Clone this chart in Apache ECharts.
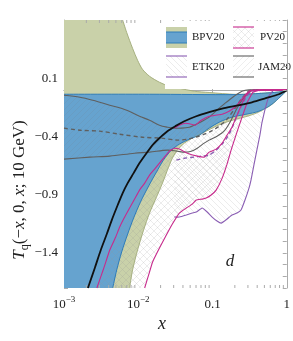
<!DOCTYPE html>
<html><head><meta charset="utf-8">
<script src="https://cdn.jsdelivr.net/npm/echarts@6/dist/echarts.min.js"></script>
<style>html,body{margin:0;padding:0;background:#fff}#c{width:293px;height:341px}</style>
</head><body><div id="c"></div>
<script>
// ---- tick labels ----
const xTickLabels = {'-3':'{a|10}{s|−3}', '-2':'{a|10}{s|−2}', '-1':'{a|0.1}', '0':'{a|1}'};
const yTickLabels = [0.1, -0.4, -0.9, -1.4];
const xMinorTicks = [0.002,0.003,0.004,0.005,0.006,0.007,0.008,0.009,0.02,0.03,0.04,0.05,0.06,0.07,0.08,0.09,0.2,0.3,0.4,0.5,0.6,0.7,0.8,0.9];

// ---- BPV20 bands ----
const bpvOuterUpper = [[0.001,0.6],[0.00617,0.6],[0.00698,0.494],[0.00839,0.357],[0.0098,0.254],[0.0114,0.177],[0.0142,0.117],[0.0193,0.066],[0.0263,0.031],[0.0358,0.014],[0.0568,-0.011],[0.0902,-0.022],[0.207,-0.038],[0.462,-0.029],[0.782,-0.018],[1,-0.005]];
const bpvOuterLower = [[0.001,-1.7],[0.00765,-1.7],[0.00839,-1.545],[0.0098,-1.374],[0.0118,-1.203],[0.0142,-1.057],[0.0176,-0.92],[0.0212,-0.8],[0.0247,-0.688],[0.0288,-0.586],[0.0336,-0.517],[0.0417,-0.457],[0.0534,-0.414],[0.0773,-0.363],[0.112,-0.311],[0.167,-0.269],[0.31,-0.222],[0.421,-0.19],[0.63,-0.125],[1,-0.005]];
const bpvInnerUpper = [[0.001,-0.037],[0.0142,-0.037],[0.207,-0.04],[0.462,-0.029],[0.782,-0.018],[1,-0.005]];
const bpvInnerLower = [[0.001,-1.7],[0.00453,-1.7],[0.00513,-1.545],[0.00598,-1.391],[0.0072,-1.237],[0.00866,-1.1],[0.0107,-0.963],[0.0138,-0.825],[0.0176,-0.705],[0.0218,-0.603],[0.0279,-0.517],[0.0358,-0.465],[0.0487,-0.423],[0.0662,-0.388],[0.0902,-0.328],[0.123,-0.277],[0.183,-0.234],[0.282,-0.209],[0.421,-0.183],[0.63,-0.123],[1,-0.005]];

// ---- thick black curve ----
const blackCurve = [[0.0021,-1.7],[0.0026,-1.528],[0.00313,-1.374],[0.00377,-1.237],[0.0044,-1.117],[0.00529,-0.988],[0.00617,-0.885],[0.0072,-0.8],[0.00866,-0.714],[0.0104,-0.628],[0.0129,-0.543],[0.016,-0.465],[0.0199,-0.406],[0.0247,-0.354],[0.0316,-0.311],[0.0417,-0.269],[0.0604,-0.226],[0.0902,-0.191],[0.143,-0.157],[0.227,-0.131],[0.34,-0.106],[0.523,-0.071],[0.782,-0.037],[1,-0.005]];

// ---- JAM20 ----
const jamUpper = [[0.001,-0.046],[0.00164,-0.063],[0.00244,-0.089],[0.00413,-0.131],[0.00698,-0.174],[0.0104,-0.226],[0.0142,-0.26],[0.0193,-0.303],[0.0247,-0.32],[0.0306,-0.328],[0.038,-0.328],[0.0487,-0.32],[0.0568,-0.303],[0.0727,-0.269],[0.0902,-0.234],[0.115,-0.174],[0.148,-0.114],[0.195,-0.054],[0.25,-0.011],[0.31,0],[1,0]];
const jamCentral = [[0.001,-0.328],[0.00164,-0.346],[0.00303,-0.354],[0.00562,-0.38],[0.0114,-0.406],[0.0205,-0.414],[0.0336,-0.431],[0.0458,-0.423],[0.0586,-0.406],[0.0773,-0.38],[0.0959,-0.354],[0.123,-0.311],[0.157,-0.251],[0.201,-0.157],[0.257,-0.063],[0.33,-0.003],[1,0]];
const jamLower = [[0.001,-0.594],[0.00223,-0.577],[0.00413,-0.568],[0.00893,-0.543],[0.0142,-0.534],[0.0247,-0.517],[0.0336,-0.526],[0.0417,-0.534],[0.0518,-0.526],[0.0623,-0.5],[0.0773,-0.457],[0.0902,-0.431],[0.115,-0.397],[0.143,-0.354],[0.172,-0.277],[0.214,-0.157],[0.274,-0.054],[0.35,-0.003],[1,0]];

// ---- PV20 ----
const pvUpper = [[0.00277,-1.7],[0.00344,-1.528],[0.00413,-1.374],[0.00497,-1.262],[0.00562,-1.177],[0.00656,-1.091],[0.00765,-1.014],[0.00893,-0.937],[0.0104,-0.86],[0.0122,-0.8],[0.0142,-0.731],[0.0166,-0.68],[0.0193,-0.628],[0.0225,-0.577],[0.0263,-0.526],[0.0306,-0.5],[0.0358,-0.508],[0.0458,-0.543],[0.0623,-0.568],[0.0773,-0.577],[0.0902,-0.534],[0.112,-0.508],[0.135,-0.457],[0.157,-0.388],[0.183,-0.32],[0.214,-0.217],[0.25,-0.114],[0.291,-0.037],[0.35,-0.003],[1,0]];
const pvMid = [[0.0306,-0.328],[0.0358,-0.303],[0.0431,-0.286],[0.0518,-0.294],[0.0586,-0.303],[0.0705,-0.26],[0.0902,-0.226],[0.109,-0.217],[0.135,-0.209],[0.167,-0.183],[0.207,-0.14],[0.242,-0.089],[0.282,-0.037],[0.33,-0.003],[1,0]];
const pvLower = [[0.0122,-1.7],[0.0138,-1.588],[0.0156,-1.477],[0.0193,-1.357],[0.0239,-1.245],[0.0288,-1.151],[0.0358,-1.057],[0.0444,-1.014],[0.0534,-0.98],[0.0604,-0.945],[0.0727,-0.937],[0.0822,-0.928],[0.0959,-0.902],[0.112,-0.86],[0.135,-0.757],[0.157,-0.637],[0.178,-0.517],[0.207,-0.388],[0.242,-0.26],[0.291,-0.114],[0.35,-0.02],[0.449,0],[1,0]];

// ---- ETK20 ----
const etkCentral = [[0.0326,-0.603],[0.0417,-0.586],[0.0568,-0.577],[0.0727,-0.568],[0.0902,-0.56],[0.112,-0.517],[0.135,-0.465],[0.152,-0.423],[0.178,-0.346],[0.207,-0.243],[0.25,-0.123],[0.31,-0.029],[0.396,0],[1,0]];
const etkLower = [[0.0306,-1.091],[0.0358,-1.091],[0.0444,-1.074],[0.0534,-1.057],[0.0604,-1.048],[0.0727,-1.014],[0.0848,-1.048],[0.0989,-1.091],[0.115,-1.125],[0.131,-1.143],[0.157,-1.108],[0.183,-1.074],[0.214,-1.057],[0.242,-1.031],[0.274,-0.945],[0.31,-0.843],[0.33,-0.774],[0.361,-0.645],[0.396,-0.517],[0.435,-0.388],[0.462,-0.286],[0.507,-0.174],[0.574,-0.054],[0.67,0],[1,0]];

const F = '"Liberation Serif","DejaVu Serif",serif';
const C = {green:'#c9d1a9', greenEdge:'#a2ab7b', blue:'#66a3cf', blueEdge:'#2f7cb8',
  magenta:'#c72a8c', purple:'#8a5db3', grey:'#5f5f5f', black:'#111', frame:'#ababab'};

function hatch(kind, color, step) {
  const c = document.createElement('canvas'); c.width = c.height = step;
  const g = c.getContext('2d'); g.strokeStyle = color; g.lineWidth = 0.6; g.beginPath();
  if (kind.indexOf('/') >= 0) { g.moveTo(0,step); g.lineTo(step,0); g.moveTo(-1,1); g.lineTo(1,-1); g.moveTo(step-1,step+1); g.lineTo(step+1,step-1); }
  if (kind.indexOf('\\') >= 0) { g.moveTo(0,0); g.lineTo(step,step); g.moveTo(step-1,-1); g.lineTo(step+1,1); g.moveTo(-1,step-1); g.lineTo(1,step+1); }
  g.stroke(); return c;
}
const patPV = {image: hatch('/\\', 'rgba(150,150,150,0.3)', 7), repeat:'repeat'};
const patETK = {image: hatch('\\', 'rgba(150,150,150,0.3)', 6), repeat:'repeat'};
const patJAM = {image: hatch('/', 'rgba(120,120,120,0.22)', 6), repeat:'repeat'};

const rev = a => a.slice().reverse();
function poly(pts, style) {
  return {type:'custom', coordinateSystem:'cartesian2d', silent:true, data:[[0.1,0]],
    renderItem:(p, api) => ({type:'polygon', shape:{points: pts.map(d => api.coord(d))}, style})};
}
function line(pts, stroke, width, dash, smooth) {
  return {type:'custom', coordinateSystem:'cartesian2d', silent:true, data:[[0.1,0]],
    renderItem:(p, api) => ({type:'polyline', shape:{points: pts.map(d => api.coord(d)), smooth: smooth || 0},
      style:{fill:null, stroke, lineWidth: width, lineDash: dash || null}})};
}
const minorTicks = {type:'custom', coordinateSystem:'cartesian2d', silent:true, data:[[0.1,0]],
  renderItem:(p, api) => ({type:'group', children: xMinorTicks.flatMap(x => {
    const b = api.coord([x,-1.7]), t = api.coord([x,0.6]);
    return [{type:'line', shape:{x1:b[0],y1:b[1],x2:b[0],y2:b[1]-3}, style:{stroke:C.frame, lineWidth:1}},
            {type:'line', shape:{x1:t[0],y1:t[1],x2:t[0],y2:t[1]+3}, style:{stroke:C.frame, lineWidth:1}}];
  })})};

const axisCommon = {axisLine:{show:true, lineStyle:{color:C.frame, width:1}},
  axisTick:{show:true, inside:true, length:5, lineStyle:{color:C.frame}}, splitLine:{show:false}};

// legend
const LX1 = 166, LX2 = 233;
function legendBand(x, y, pat, lineColor) {
  return [
    {type:'rect', shape:{x, y, width:21, height:21}, style:{fill:pat}, z:11},
    {type:'line', shape:{x1:x, y1:y, x2:x+21, y2:y}, style:{stroke:lineColor, lineWidth:1.1}, z:12},
    {type:'line', shape:{x1:x, y1:y+21, x2:x+21, y2:y+21}, style:{stroke:lineColor, lineWidth:1.1}, z:12}
  ];
}
const legendTxt = (text, x, y, align) => ({type:'text', x, y, z:12,
  style:{text, font:'11px ' + F, fill:'#222', align: align || 'left', verticalAlign:'middle'}});

const option = {
  animation:false,
  grid:{left:64, right:5, top:20, bottom:53},
  xAxis:[
    Object.assign({type:'log', logBase:10, min:0.001, max:1,
      axisLabel:{margin:7, formatter: v => xTickLabels[String(Math.round(Math.log10(v)))] || '',
        rich:{a:{fontFamily:F, fontSize:13, color:'#222', lineHeight:20}, s:{fontFamily:F, fontSize:9, color:'#222', verticalAlign:'top'}}}}, axisCommon),
    Object.assign({type:'log', logBase:10, min:0.001, max:1, position:'top', axisLabel:{show:false}}, axisCommon)
  ],
  yAxis:[
    Object.assign({type:'value', min:-1.7, max:0.6, interval:0.1,
      axisLabel:{margin:6, fontFamily:F, fontSize:13, color:'#222',
        formatter: v => { const r = Math.round(v*10); return yTickLabels.some(t => Math.round(t*10) === r) ? (r < 0 ? '−' : '') + Math.abs(r/10).toFixed(1) : ''; }}},
      axisCommon, {axisTick:{show:true, inside:true, length:4, lineStyle:{color:C.frame}}}),
    Object.assign({type:'value', min:-1.7, max:0.6, interval:0.1, position:'right', z:20, axisLabel:{show:false}},
      axisCommon, {axisTick:{show:true, inside:true, length:4, lineStyle:{color:C.frame}}})
  ],
  series:[
    poly(bpvOuterUpper.concat(rev(bpvOuterLower)), {fill:C.green}),
    poly(bpvInnerUpper.concat(rev(bpvInnerLower)), {fill:C.blue}),
    poly(jamUpper.concat(rev(jamLower)), {fill:patJAM}),
    poly(pvUpper.concat(rev(pvLower)), {fill:patPV}),
    poly(pvMid.concat(rev(etkLower)), {fill:patETK}),
    line(bpvOuterUpper.slice(1), C.greenEdge, 0.9, null, 0.3),
    line(bpvOuterLower.slice(1), C.greenEdge, 0.9, null, 0.3),
    line(bpvInnerUpper, C.blueEdge, 1, null, 0.3),
    line(bpvInnerLower.slice(1), C.blueEdge, 1, null, 0.3),
    line(jamUpper, C.grey, 1.1, null, 0.3),
    line(jamCentral, C.grey, 1.4, [4,3], 0.3),
    line(jamLower, C.grey, 1.1, null, 0.3),
    line(etkCentral, C.purple, 1.4, [4,3], 0.2),
    line(etkLower, C.purple, 1.1, null, 0.1),
    line(pvUpper, C.magenta, 1.1, null, 0.1),
    line(pvMid, C.magenta, 1.1, null, 0.1),
    line(pvLower, C.magenta, 1.1, null, 0.1),
    line(blackCurve, C.black, 1.8, null, 0.3),
    minorTicks
  ],
  graphic:{elements:[
    {type:'rect', shape:{x:165, y:21, width:122, height:68}, style:{fill:'#fff'}, z:10},
    {type:'rect', shape:{x:LX1, y:27, width:21, height:21}, style:{fill:C.green}, z:11},
    {type:'rect', shape:{x:LX1, y:32, width:21, height:11}, style:{fill:C.blue}, z:11},
    {type:'line', shape:{x1:LX1, y1:32, x2:LX1+21, y2:32}, style:{stroke:C.blueEdge, lineWidth:1}, z:12},
    {type:'line', shape:{x1:LX1, y1:43, x2:LX1+21, y2:43}, style:{stroke:C.blueEdge, lineWidth:1}, z:12},
    legendTxt('BPV20', 192, 37),
    ...legendBand(LX2, 27, patPV, C.magenta),
    legendTxt('PV20', 285, 37, 'right'),
    ...legendBand(LX1, 56, patETK, C.purple),
    legendTxt('ETK20', 192, 67),
    ...legendBand(LX2, 56, patJAM, C.grey),
    legendTxt('JAM20', 258, 67),
    {type:'text', x:230, y:262, z:12, style:{text:'d', font:'italic 17px ' + F, fill:'#222', align:'center', verticalAlign:'middle'}},
    {type:'text', x:162, y:324, z:12, style:{text:'x', font:'italic 18px ' + F, fill:'#222', align:'center', verticalAlign:'middle'}},
    {type:'text', x:20, y:190, rotation:Math.PI/2, z:12, style:{
      text:'{i|T}{sub|q}{n|(−}{i|x}{n|, 0, }{i|x}{n|; 10 GeV)}', align:'center', verticalAlign:'middle',
      rich:{i:{fontFamily:F, fontStyle:'italic', fontSize:17, fill:'#222', lineHeight:22},
            n:{fontFamily:F, fontSize:17, fill:'#222', lineHeight:22},
            sub:{fontFamily:F, fontSize:12, fill:'#222', verticalAlign:'bottom'}}}}
  ]}
};
const chart = echarts.init(document.getElementById('c'), null, {renderer:'canvas'});
chart.setOption(option);
</script></body></html>
